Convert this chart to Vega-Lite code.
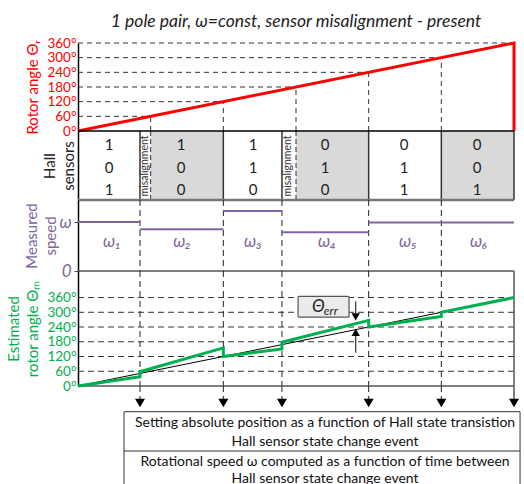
{
  "$schema": "https://vega.github.io/schema/vega-lite/v6.json",
  "padding": {"left": 6, "top": 12, "right": 0, "bottom": 0},
  "title": {"text": "1 pole pair, ω=const,  sensor misalignment - present", "fontStyle": "italic", "fontSize": 17.5, "fontWeight": "normal", "color": "#222", "anchor": "middle", "frame": "group", "offset": 6},
  "spacing": 0,
  "bounds": "flush",
  "config": {
    "view": {"stroke": null},
    "font": "Lato",
    "axis": {"grid": false, "titleFontWeight": "normal", "labelOverlap": false, "labelFlush": false, "labelBound": false, "domainColor": "#000", "domainWidth": 1.5},
    "axisY": {"labelOverlap": false},
    "axisLeft": {"labelOverlap": false},
    "axisQuantitative": {"labelOverlap": false},
    "text": {"font": "Lato"}
  },
  "vconcat": [
    {
      "width": 436, "height": 88,
      "layer": [
        {
          "data": {"values": [{"z": 0, "lvl": 60}, {"z": 0, "lvl": 120}, {"z": 0, "lvl": 180}, {"z": 0, "lvl": 240}, {"z": 0, "lvl": 300}, {"z": 0, "lvl": 360}]},
          "mark": {"type": "rule", "strokeDash": [5, 4], "color": "#333", "strokeWidth": 1},
          "encoding": {
            "x": {"field": "z", "type": "quantitative", "scale": {"domain": [0, 360], "nice": false, "zero": false}, "axis": null},
            "x2": {"field": "lvl"},
            "y": {"field": "lvl", "type": "quantitative", "scale": {"domain": [0, 360], "nice": false, "zero": false},
              "axis": {"values": [0, 60, 120, 180, 240, 300, 360], "labelOverlap": false, "labelExpr": "datum.value + '°'", "labelColor": "#ff0000", "labelFontSize": 13.5, "ticks": false, "labelPadding": 2, "title": "Rotor angle Θᵣ", "titleColor": "#ff0000", "titleFontSize": 15, "titlePadding": 6}}
          }
        },
        {
          "data": {"values": [{"z": 0, "lvl": 60}, {"z": 0, "lvl": 120}, {"z": 0, "lvl": 180}, {"z": 0, "lvl": 240}, {"z": 0, "lvl": 300}]},
          "mark": {"type": "rule", "strokeDash": [5, 4], "color": "#333", "strokeWidth": 1},
          "encoding": {
            "x": {"field": "lvl", "type": "quantitative"},
            "y": {"field": "z", "type": "quantitative",
              "axis": {"values": [0, 60, 120, 180, 240, 300, 360], "labelOverlap": false, "labelExpr": "datum.value + '°'", "labelColor": "#ff0000", "labelFontSize": 13.5, "ticks": false, "labelPadding": 2, "title": "Rotor angle Θᵣ", "titleColor": "#ff0000", "titleFontSize": 15, "titlePadding": 6}},
            "y2": {"field": "lvl"}
          }
        },
        {
          "data": {"values": [{"t": 0, "a": 0, "o": 0}, {"t": 360, "a": 360, "o": 1}, {"t": 360, "a": 0, "o": 2}]},
          "mark": {"type": "line", "color": "#ff0000", "strokeWidth": 3},
          "encoding": {
            "x": {"field": "t", "type": "quantitative"},
            "y": {"field": "a", "type": "quantitative",
              "axis": {"values": [0, 60, 120, 180, 240, 300, 360], "labelOverlap": false, "labelExpr": "datum.value + '°'", "labelColor": "#ff0000", "labelFontSize": 13.5, "ticks": false, "labelPadding": 2, "title": "Rotor angle Θᵣ", "titleColor": "#ff0000", "titleFontSize": 15, "titlePadding": 6}},
            "order": {"field": "o", "type": "quantitative"}
          }
        }
      ]
    },
    {
      "width": 436, "height": 69,
      "layer": [
        {
          "data": {"values": [{"a": 60, "b": 120, "s0": 0.38, "s1": 3.44}, {"a": 180, "b": 240, "s0": 0.38, "s1": 3.44}, {"a": 300, "b": 360, "s0": 0.38, "s1": 3.44}]},
          "mark": {"type": "rect", "color": "#d9d9d9"},
          "encoding": {
            "x": {"field": "a", "type": "quantitative", "scale": {"domain": [0, 360], "nice": false, "zero": false}, "axis": null},
            "x2": {"field": "b"},
            "y": {"field": "s0", "type": "quantitative", "scale": {"domain": [0.38, 3.44], "nice": false, "zero": false, "reverse": true},
              "axis": {"labels": false, "ticks": false, "title": ["Hall", "sensors"], "titleFontSize": 15, "titleColor": "#222", "titlePadding": 2, "titleLineHeight": 19}},
            "y2": {"field": "s1"}
          }
        },
        {
          "data": {"values": [{"t": 60}, {"t": 180}]},
          "mark": {"type": "rule", "strokeDash": [5, 3], "color": "#333", "strokeWidth": 1},
          "encoding": {"x": {"field": "t", "type": "quantitative"}}
        },
        {
          "data": {"values": [{"t": 51.2}, {"t": 120}, {"t": 168.4}, {"t": 240}, {"t": 300}, {"t": 360}]},
          "mark": {"type": "rule", "color": "#333", "strokeWidth": 1.5},
          "encoding": {"x": {"field": "t", "type": "quantitative"}}
        },
        {
          "data": {"values": [{"x0": 0, "x1": 360, "y": 0.38}]},
          "mark": {"type": "rule", "color": "#000", "strokeWidth": 1.5},
          "encoding": {
            "x": {"field": "x0", "type": "quantitative"},
            "x2": {"field": "x1"},
            "y": {"field": "y", "type": "quantitative"}
          }
        },
        {
          "data": {"values": [{"x0": 0, "x1": 360, "y": 3.44}]},
          "mark": {"type": "rule", "color": "#777", "strokeWidth": 2.5},
          "encoding": {
            "x": {"field": "x0", "type": "quantitative"},
            "x2": {"field": "x1"},
            "y": {"field": "y", "type": "quantitative"}
          }
        },
        {
          "data": {"values": [
            {"t": 25.6, "s": 1, "v": "1"}, {"t": 25.6, "s": 2, "v": "0"}, {"t": 25.6, "s": 3, "v": "1"},
            {"t": 85.2, "s": 1, "v": "1"}, {"t": 85.2, "s": 2, "v": "0"}, {"t": 85.2, "s": 3, "v": "0"},
            {"t": 144.5, "s": 1, "v": "1"}, {"t": 144.5, "s": 2, "v": "1"}, {"t": 144.5, "s": 3, "v": "0"},
            {"t": 204, "s": 1, "v": "0"}, {"t": 204, "s": 2, "v": "1"}, {"t": 204, "s": 3, "v": "0"},
            {"t": 269.3, "s": 1, "v": "0"}, {"t": 269.3, "s": 2, "v": "1"}, {"t": 269.3, "s": 3, "v": "1"},
            {"t": 329.5, "s": 1, "v": "0"}, {"t": 329.5, "s": 2, "v": "0"}, {"t": 329.5, "s": 3, "v": "1"}
          ]},
          "mark": {"type": "text", "fontSize": 15, "color": "#222"},
          "encoding": {
            "x": {"field": "t", "type": "quantitative"},
            "y": {"field": "s", "type": "quantitative"},
            "text": {"field": "v", "type": "nominal"}
          }
        },
        {
          "data": {"values": [{"t": 55.2, "s": 1.93, "v": "misalignment"}, {"t": 173.6, "s": 1.93, "v": "misalignment"}]},
          "mark": {"type": "text", "fontSize": 10.5, "angle": 270, "color": "#333"},
          "encoding": {
            "x": {"field": "t", "type": "quantitative"},
            "y": {"field": "s", "type": "quantitative"},
            "text": {"field": "v", "type": "nominal"}
          }
        }
      ]
    },
    {
      "width": 436, "height": 71,
      "layer": [
        {
          "data": {"values": [{"t": 51.2}, {"t": 120}, {"t": 168.4}, {"t": 240}, {"t": 300}]},
          "mark": {"type": "rule", "strokeDash": [6, 4], "color": "#222", "strokeWidth": 1},
          "encoding": {"x": {"field": "t", "type": "quantitative", "scale": {"domain": [0, 360], "nice": false, "zero": false}, "axis": null}}
        },
        {
          "data": {"values": [{"x0": 0, "x1": 360, "w": 0}]},
          "mark": {"type": "rule", "color": "#555", "strokeWidth": 1.5},
          "encoding": {
            "x": {"field": "x0", "type": "quantitative"},
            "x2": {"field": "x1"},
            "y": {"field": "w", "type": "quantitative", "scale": {"domain": [0, 1.449], "nice": false, "zero": false},
              "axis": {"values": [0, 1], "labelOverlap": false, "labelExpr": "datum.value == 0 ? '0' : 'ω'", "labelColor": "#8064a2", "labelFontSize": 17, "labelFontStyle": "italic", "ticks": true, "tickColor": "#555", "tickSize": 4, "labelPadding": 3, "title": ["Measured", "speed"], "titleColor": "#8064a2", "titleFontSize": 15, "titlePadding": 0, "titleLineHeight": 19}}
          }
        },
        {
          "data": {"values": [
            {"a": 0, "b": 51.2, "w": 1.0},
            {"a": 51.2, "b": 120, "w": 0.851},
            {"a": 120, "b": 168.4, "w": 1.224},
            {"a": 168.4, "b": 240, "w": 0.79},
            {"a": 240, "b": 300, "w": 0.99},
            {"a": 300, "b": 360, "w": 0.99}
          ]},
          "mark": {"type": "rule", "color": "#8064a2", "strokeWidth": 2},
          "encoding": {
            "x": {"field": "a", "type": "quantitative"},
            "x2": {"field": "b"},
            "y": {"field": "w", "type": "quantitative"}
          }
        },
        {
          "data": {"values": [
            {"c": 28, "ly": 0.59, "lab": "ω₁"},
            {"c": 85.9, "ly": 0.59, "lab": "ω₂"},
            {"c": 144.5, "ly": 0.59, "lab": "ω₃"},
            {"c": 205.6, "ly": 0.59, "lab": "ω₄"},
            {"c": 272.5, "ly": 0.59, "lab": "ω₅"},
            {"c": 331, "ly": 0.59, "lab": "ω₆"}
          ]},
          "mark": {"type": "text", "fontSize": 17, "fontStyle": "italic", "color": "#8064a2"},
          "encoding": {
            "x": {"field": "c", "type": "quantitative"},
            "y": {"field": "ly", "type": "quantitative"},
            "text": {"field": "lab", "type": "nominal"}
          }
        }
      ]
    },
    {
      "width": 436, "height": 115,
      "layer": [
        {
          "data": {"values": [{"x0": 0, "x1": 360, "lvl": 60}, {"x0": 0, "x1": 360, "lvl": 120}, {"x0": 0, "x1": 360, "lvl": 180}, {"x0": 0, "x1": 360, "lvl": 240}, {"x0": 0, "x1": 360, "lvl": 300}, {"x0": 0, "x1": 360, "lvl": 360}]},
          "mark": {"type": "rule", "strokeDash": [6, 4], "color": "#333", "strokeWidth": 1},
          "encoding": {
            "x": {"field": "x0", "type": "quantitative", "scale": {"domain": [0, 360], "nice": false, "zero": false}, "axis": null},
            "x2": {"field": "x1"},
            "y": {"field": "lvl", "type": "quantitative", "scale": {"domain": [0, 468], "nice": false, "zero": false},
              "axis": {"values": [0, 60, 120, 180, 240, 300, 360], "labelOverlap": false, "labelExpr": "datum.value + '°'", "labelColor": "#00b050", "labelFontSize": 13.5, "ticks": false, "labelPadding": 2, "title": ["Estimated", "rotor angle Θₘ"], "titleColor": "#00b050", "titleFontSize": 15, "titlePadding": 6, "titleLineHeight": 19}}
          }
        },
        {
          "data": {"values": [{"t": 51.2}, {"t": 120}, {"t": 168.4}, {"t": 240}, {"t": 300}]},
          "mark": {"type": "rule", "strokeDash": [6, 4], "color": "#222", "strokeWidth": 1},
          "encoding": {"x": {"field": "t", "type": "quantitative"}}
        },
        {
          "data": {"values": [{"t": 360}]},
          "mark": {"type": "rule", "color": "#555", "strokeWidth": 1.5},
          "encoding": {"x": {"field": "t", "type": "quantitative"}}
        },
        {
          "data": {"values": [{"x0": 0, "x1": 360, "a": 0}]},
          "mark": {"type": "rule", "color": "#555", "strokeWidth": 1.5},
          "encoding": {
            "x": {"field": "x0", "type": "quantitative"},
            "x2": {"field": "x1"},
            "y": {"field": "a", "type": "quantitative",
              "axis": {"values": [0, 60, 120, 180, 240, 300, 360], "labelOverlap": false, "labelExpr": "datum.value + '°'", "labelColor": "#00b050", "labelFontSize": 13.5, "ticks": false, "labelPadding": 2, "title": ["Estimated", "rotor angle Θₘ"], "titleColor": "#00b050", "titleFontSize": 15, "titlePadding": 6, "titleLineHeight": 19}}
          }
        },
        {
          "data": {"values": [{"x0": 181.7, "x1": 223.8, "y0": 280, "y1": 365}]},
          "mark": {"type": "rect", "fill": "#ebebeb", "stroke": "#555", "strokeWidth": 1.2, "cornerRadius": 1},
          "encoding": {
            "x": {"field": "x0", "type": "quantitative"},
            "x2": {"field": "x1"},
            "y": {"field": "y0", "type": "quantitative",
              "axis": {"values": [0, 60, 120, 180, 240, 300, 360], "labelOverlap": false, "labelExpr": "datum.value + '°'", "labelColor": "#00b050", "labelFontSize": 13.5, "ticks": false, "labelPadding": 2, "title": ["Estimated", "rotor angle Θₘ"], "titleColor": "#00b050", "titleFontSize": 15, "titlePadding": 6, "titleLineHeight": 19}},
            "y2": {"field": "y1"}
          }
        },
        {
          "data": {"values": [{"t": 198.5, "a": 322, "s": "Θ"}]},
          "mark": {"type": "text", "fontSize": 17, "fontStyle": "italic", "color": "#222"},
          "encoding": {
            "x": {"field": "t", "type": "quantitative"},
            "y": {"field": "a", "type": "quantitative",
              "axis": {"values": [0, 60, 120, 180, 240, 300, 360], "labelOverlap": false, "labelExpr": "datum.value + '°'", "labelColor": "#00b050", "labelFontSize": 13.5, "ticks": false, "labelPadding": 2, "title": ["Estimated", "rotor angle Θₘ"], "titleColor": "#00b050", "titleFontSize": 15, "titlePadding": 6, "titleLineHeight": 19}},
            "text": {"field": "s", "type": "nominal"}
          }
        },
        {
          "data": {"values": [{"t": 203, "a": 305, "s": "err"}]},
          "mark": {"type": "text", "fontSize": 12, "fontStyle": "italic", "color": "#222", "align": "left"},
          "encoding": {
            "x": {"field": "t", "type": "quantitative"},
            "y": {"field": "a", "type": "quantitative",
              "axis": {"values": [0, 60, 120, 180, 240, 300, 360], "labelOverlap": false, "labelExpr": "datum.value + '°'", "labelColor": "#00b050", "labelFontSize": 13.5, "ticks": false, "labelPadding": 2, "title": ["Estimated", "rotor angle Θₘ"], "titleColor": "#00b050", "titleFontSize": 15, "titlePadding": 6, "titleLineHeight": 19}},
            "text": {"field": "s", "type": "nominal"}
          }
        },
        {
          "data": {"values": [{"t": 0, "a": 0}, {"t": 360, "a": 360}]},
          "mark": {"type": "line", "color": "#000", "strokeWidth": 1},
          "encoding": {
            "x": {"field": "t", "type": "quantitative"},
            "y": {"field": "a", "type": "quantitative",
              "axis": {"values": [0, 60, 120, 180, 240, 300, 360], "labelOverlap": false, "labelExpr": "datum.value + '°'", "labelColor": "#00b050", "labelFontSize": 13.5, "ticks": false, "labelPadding": 2, "title": ["Estimated", "rotor angle Θₘ"], "titleColor": "#00b050", "titleFontSize": 15, "titlePadding": 6, "titleLineHeight": 19}}
          }
        },
        {
          "data": {"values": [
            {"t": 0, "a": 0, "o": 0}, {"t": 51.2, "a": 38, "o": 1}, {"t": 51.2, "a": 58, "o": 2},
            {"t": 120, "a": 155, "o": 3}, {"t": 120, "a": 120, "o": 4},
            {"t": 168.4, "a": 151, "o": 5}, {"t": 168.4, "a": 178, "o": 6},
            {"t": 240, "a": 267, "o": 7}, {"t": 240, "a": 240, "o": 8},
            {"t": 300, "a": 283, "o": 9}, {"t": 300, "a": 300, "o": 10},
            {"t": 360, "a": 360, "o": 11}
          ]},
          "mark": {"type": "line", "color": "#00b050", "strokeWidth": 3, "strokeJoin": "miter"},
          "encoding": {
            "x": {"field": "t", "type": "quantitative"},
            "y": {"field": "a", "type": "quantitative",
              "axis": {"values": [0, 60, 120, 180, 240, 300, 360], "labelOverlap": false, "labelExpr": "datum.value + '°'", "labelColor": "#00b050", "labelFontSize": 13.5, "ticks": false, "labelPadding": 2, "title": ["Estimated", "rotor angle Θₘ"], "titleColor": "#00b050", "titleFontSize": 15, "titlePadding": 6, "titleLineHeight": 19}},
            "order": {"field": "o", "type": "quantitative"}
          }
        },
        {
          "data": {"values": [{"t": 229.3, "a0": 345, "a1": 285}, {"t": 229.3, "a0": 135, "a1": 215}]},
          "mark": {"type": "rule", "color": "#333", "strokeWidth": 1.2},
          "encoding": {
            "x": {"field": "t", "type": "quantitative"},
            "y": {"field": "a0", "type": "quantitative",
              "axis": {"values": [0, 60, 120, 180, 240, 300, 360], "labelOverlap": false, "labelExpr": "datum.value + '°'", "labelColor": "#00b050", "labelFontSize": 13.5, "ticks": false, "labelPadding": 2, "title": ["Estimated", "rotor angle Θₘ"], "titleColor": "#00b050", "titleFontSize": 15, "titlePadding": 6, "titleLineHeight": 19}},
            "y2": {"field": "a1"}
          }
        },
        {
          "data": {"values": [{"t": 229.3, "a": 281}]},
          "mark": {"type": "point", "shape": "triangle-down", "filled": true, "color": "#000", "size": 70, "opacity": 1},
          "encoding": {
            "x": {"field": "t", "type": "quantitative"},
            "y": {"field": "a", "type": "quantitative",
              "axis": {"values": [0, 60, 120, 180, 240, 300, 360], "labelOverlap": false, "labelExpr": "datum.value + '°'", "labelColor": "#00b050", "labelFontSize": 13.5, "ticks": false, "labelPadding": 2, "title": ["Estimated", "rotor angle Θₘ"], "titleColor": "#00b050", "titleFontSize": 15, "titlePadding": 6, "titleLineHeight": 19}}
          }
        },
        {
          "data": {"values": [{"t": 229.3, "a": 218}]},
          "mark": {"type": "point", "shape": "triangle-up", "filled": true, "color": "#000", "size": 70, "opacity": 1},
          "encoding": {
            "x": {"field": "t", "type": "quantitative"},
            "y": {"field": "a", "type": "quantitative",
              "axis": {"values": [0, 60, 120, 180, 240, 300, 360], "labelOverlap": false, "labelExpr": "datum.value + '°'", "labelColor": "#00b050", "labelFontSize": 13.5, "ticks": false, "labelPadding": 2, "title": ["Estimated", "rotor angle Θₘ"], "titleColor": "#00b050", "titleFontSize": 15, "titlePadding": 6, "titleLineHeight": 19}}
          }
        }
      ]
    },
    {
      "width": 436, "height": 98,
      "layer": [
        {
          "data": {"values": [{"t": 51.2, "y0": 0, "y1": 14}, {"t": 120, "y0": 0, "y1": 14}, {"t": 168.4, "y0": 0, "y1": 14}, {"t": 240, "y0": 0, "y1": 14}, {"t": 300, "y0": 0, "y1": 14}]},
          "mark": {"type": "rule", "strokeDash": [6, 4], "color": "#222", "strokeWidth": 1},
          "encoding": {
            "x": {"field": "t", "type": "quantitative", "scale": {"domain": [0, 360], "nice": false, "zero": false}, "axis": null},
            "y": {"field": "y0", "type": "quantitative", "scale": {"domain": [0, 98], "nice": false, "zero": false, "reverse": true}, "axis": null},
            "y2": {"field": "y1"}
          }
        },
        {
          "data": {"values": [{"t": 360, "y0": 0, "y1": 14}]},
          "mark": {"type": "rule", "color": "#555", "strokeWidth": 1.5},
          "encoding": {
            "x": {"field": "t", "type": "quantitative"},
            "y": {"field": "y0", "type": "quantitative", "axis": null},
            "y2": {"field": "y1"}
          }
        },
        {
          "data": {"values": [{"t": 51.2, "y": 17}, {"t": 120, "y": 17}, {"t": 168.4, "y": 17}, {"t": 240, "y": 17}, {"t": 300, "y": 17}, {"t": 360, "y": 17}]},
          "mark": {"type": "point", "shape": "triangle-down", "filled": true, "color": "#000", "size": 100, "opacity": 1},
          "encoding": {
            "x": {"field": "t", "type": "quantitative"},
            "y": {"field": "y", "type": "quantitative", "axis": null}
          }
        },
        {
          "data": {"values": [{"x0": 38, "x1": 365, "y0": 25.7, "y1": 110}]},
          "mark": {"type": "rect", "fill": "#fff", "stroke": "#333", "strokeWidth": 1},
          "encoding": {
            "x": {"field": "x0", "type": "quantitative"},
            "x2": {"field": "x1"},
            "y": {"field": "y0", "type": "quantitative", "axis": null},
            "y2": {"field": "y1"}
          }
        },
        {
          "data": {"values": [{"x0": 38, "x1": 365, "y": 65}]},
          "mark": {"type": "rule", "color": "#333", "strokeWidth": 1},
          "encoding": {
            "x": {"field": "x0", "type": "quantitative"},
            "x2": {"field": "x1"},
            "y": {"field": "y", "type": "quantitative", "axis": null}
          }
        },
        {
          "data": {"values": [
            {"x": 204, "y": 37, "s": "Setting absolute position as a function of Hall state transistion"},
            {"x": 204, "y": 55.7, "s": "Hall sensor state change event"},
            {"x": 204, "y": 75.7, "s": "Rotational speed ω computed as a function of time between"},
            {"x": 204, "y": 93, "s": "Hall sensor state change event"}
          ]},
          "mark": {"type": "text", "fontSize": 14, "color": "#111"},
          "encoding": {
            "x": {"field": "x", "type": "quantitative"},
            "y": {"field": "y", "type": "quantitative", "axis": null},
            "text": {"field": "s", "type": "nominal"}
          }
        }
      ]
    }
  ]
}
